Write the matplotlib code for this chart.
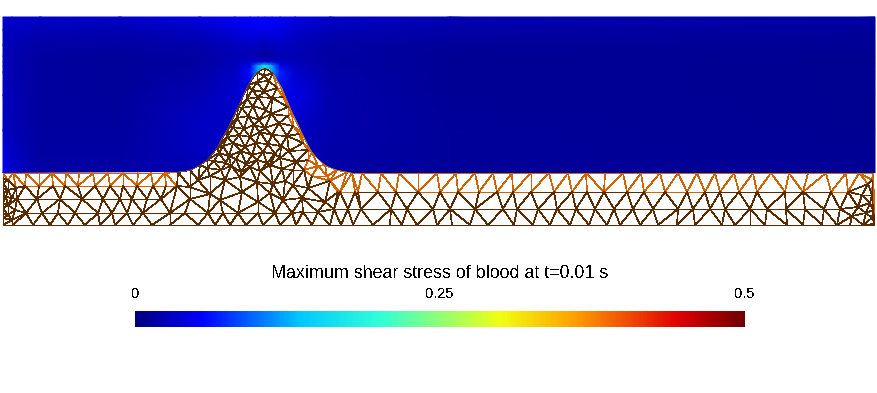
import numpy as np
import matplotlib
matplotlib.use("Agg")
import matplotlib.pyplot as plt
import matplotlib.tri as mtri
from matplotlib.collections import LineCollection
from matplotlib.colors import LinearSegmentedColormap, Normalize
from matplotlib.cm import ScalarMappable

plt.rcParams["font.family"] = ["Liberation Sans", "DejaVu Sans"]
plt.rcParams["text.antialiased"] = False

# everything is measured in picture pixels, y going down
title = "Maximum shear stress of blood at t=0.01 s"
bar_ticks = [0, 0.25, 0.5]
bar_labels = ["0", "0.25", "0.5"]

# colour stops
cmap_pos = [0, 0.11, 0.27, 0.40, 0.60, 0.72, 0.89, 1]
cmap_col = ["#00007f", "#0000ff", "#00c8ff", "#2fffd8", "#f0ff10", "#ffa000", "#e00000", "#700000"]

# stress in the fluid
field_x = [3, 12, 40, 120, 200, 235, 250, 258, 265, 272, 280, 295, 330, 450, 875]
field_y = [17, 30, 45, 56, 62, 66, 72, 95, 130, 173]
field_v = [
    [.035, .035, .033, .035, .045, .052, .056, .057, .057, .056, .052, .045, .035, .025, .018],
    [.030, .028, .025, .022, .030, .040, .045, .045, .045, .045, .043, .035, .025, .018, .012],
    [.028, .024, .018, .016, .020, .028, .030, .028, .025, .028, .030, .026, .018, .013, .010],
    [.028, .022, .015, .013, .017, .025, .024, .018, .012, .018, .024, .024, .016, .011, .009],
    [.028, .022, .015, .013, .017, .026, .030, .035, .040, .035, .030, .026, .016, .011, .009],
    [.028, .022, .015, .013, .017, .028, .045, .120, .190, .120, .050, .028, .017, .011, .009],
    [.028, .022, .015, .013, .018, .030, .060, .120, .120, .120, .070, .035, .018, .011, .009],
    [.030, .024, .015, .013, .025, .035, .040, .040, .040, .040, .040, .045, .020, .011, .009],
    [.032, .025, .015, .014, .030, .030, .030, .030, .030, .030, .030, .030, .020, .012, .009],
    [.050, .035, .016, .016, .025, .030, .030, .030, .030, .030, .030, .030, .016, .012, .010],
]

# blood / wall interface
iface_left_x = [178, 190, 200, 207, 217, 228, 238, 248, 257, 265]
iface_left_y = [172, 170, 165, 160, 148, 128, 107, 85, 72, 68]
iface_right_x = [273, 282, 292, 302, 312, 325, 337, 347, 352]
iface_right_y = [73, 88, 112, 133, 152, 165, 170, 172, 173]

# top surface of the wall
top_x = [3, 13, 26, 39, 52, 66, 79, 93, 108, 123, 138, 151, 165,
         362, 381, 399, 418, 437, 456, 475, 493, 512, 531, 549, 568, 586, 605, 623,
         641, 660, 678, 697, 715, 734, 753, 771, 789, 808, 826, 846, 859, 873]

# left part of the wall, four layers
row186_x = [25, 39, 53, 65, 78, 95, 110, 123, 137, 153, 166, 177]
row200_x = [17, 37, 60, 82, 103, 120, 132, 147, 161, 190]
row213_x = [26, 42, 58, 75, 98, 112, 127, 143, 170, 185, 208]
bottom_x = [3, 13, 33, 50, 68, 85, 100, 115, 133, 152, 170, 198, 215, 230, 246, 263, 280, 296, 312,
            330, 341, 353, 373, 390, 402, 417, 437, 452, 470, 488, 514, 533, 550, 570, 589, 607, 620,
            640, 658, 677, 695, 722, 735, 750, 765, 787, 803, 822, 837, 850, 863, 875]

# right part of the wall, three layers
row192_warm_x = [340, 358, 418, 440, 458, 479, 497, 513, 531, 644, 665, 687, 705, 831, 848]
row192_x = [378, 396, 554, 572, 587, 604, 627, 720, 739, 757, 785, 803]
row209_x = [334, 348, 361, 391, 407, 433, 450, 475, 503, 517, 538, 557, 576, 595, 614, 633, 653,
            678, 693, 710, 725, 750, 767, 786, 805, 824, 840]

# fine mesh in the bump, uneven like the reference
bump_x = [264,
          257, 269,
          252, 264,
          247, 258, 272,
          242, 253, 266,
          237, 248, 259, 271,
          233, 244, 254, 265, 279,
          227, 239, 250, 260, 272, 287,
          223, 233, 245, 256, 268, 281,
          219, 229, 241, 252, 263, 275, 289,
          214, 226, 236, 246, 257, 267, 280, 296,
          207, 221, 231, 241, 250, 260, 270, 282, 293]
bump_y = [76,
          82, 81,
          90, 92,
          99, 97, 98,
          108, 106, 110,
          118, 116, 120, 114,
          127, 129, 125, 128, 123,
          137, 135, 137, 132, 135, 136,
          146, 143, 147, 143, 144, 146,
          153, 156, 151, 155, 152, 154, 151,
          161, 163, 159, 164, 160, 163, 158, 162,
          168, 170, 166, 172, 167, 171, 165, 169, 170]

# orange part on the right flank of the bump
flank_x = [277, 283, 288, 288, 293, 299, 303, 308, 308, 304, 318, 312, 327, 330, 338, 355]
flank_y = [88, 97, 107, 116, 126, 134, 143, 150, 160, 170, 166, 176, 176, 181, 192, 192]

# wall below the bump
base_x = [190, 198, 210, 225, 240, 257, 273, 285, 293, 308,
          210, 220, 242, 258, 270, 283, 302, 325,
          223, 238, 258, 275, 292, 303, 318]
base_y = [187, 180, 176, 180, 177, 182, 184, 181, 185, 188,
          194, 200, 192, 202, 193, 200, 198, 202,
          213, 213, 213, 213, 213, 212, 212]

# dense corners
left_x = [3, 3, 3, 3, 3, 3, 3, 3, 3, 8, 8, 8, 8, 12, 6, 16, 15, 12]
left_y = [178, 183, 188, 193, 198, 203, 208, 213, 218, 180, 190, 205, 215, 198, 197, 188, 210, 220]
right_x = [862, 868, 872, 870, 858, 872, 873, 866, 872, 852, 875]
right_y = [195, 184, 180, 203, 207, 195, 210, 213, 218, 216, 224]

nodes = []
levels = []


def add(xs, ys, level):
    for x, y in zip(xs, ys):
        nodes.append((x, y))
        levels.append(level)


add(top_x, [173] * len(top_x), 2)
add(row186_x, [186] * len(row186_x), 1)
add(row200_x, [199] * len(row200_x), 0)
add(row213_x, [213] * len(row213_x), 0)
add(bottom_x, [225] * len(bottom_x), 0)
add(row192_warm_x, [192] * len(row192_warm_x), 1)
add(row192_x, [192] * len(row192_x), 0)
add(row209_x, [209] * len(row209_x), 0)
add(iface_left_x, iface_left_y, 0)
add(iface_right_x, iface_right_y, 1)
add(bump_x, bump_y, 0)
add(flank_x, flank_y, 1)
add(base_x, base_y, 0)
add(left_x, left_y, 0)
add(right_x, right_y, 0)
nodes = np.array(nodes, dtype=float)
levels = np.array(levels)

# smoother outline for the wall, denser than the mesh nodes
outline_x = [3, 178, 186, 193, 200, 207, 212, 217, 222, 228, 233, 238, 243, 248, 253, 257, 261, 265,
             269, 273, 277, 282, 287, 292, 297, 302, 307, 312, 318, 325, 331, 337, 347, 352, 875]
outline_y = [173, 172, 171, 169, 165, 160, 154, 148, 138, 128, 117, 107, 96, 85, 77, 72, 69, 68,
             69, 73, 80, 88, 100, 112, 122, 133, 143, 152, 159, 165, 168, 170, 172, 173, 173]

tri = mtri.Triangulation(nodes[:, 0], nodes[:, 1])
cx = nodes[tri.triangles, 0].mean(axis=1)
cy = nodes[tri.triangles, 1].mean(axis=1)
tri.set_mask(cy < np.interp(cx, outline_x, outline_y))

edges = tri.edges
warm = levels[edges].sum(axis=1) >= 2

cmap = LinearSegmentedColormap.from_list("blood", list(zip(cmap_pos, cmap_col)))
norm = Normalize(bar_ticks[0], bar_ticks[-1])

fig = plt.figure(figsize=(8.77, 3.93), dpi=100)
ax = fig.add_axes([0, 0, 1, 1])
ax.set_xlim(0, 877)
ax.set_ylim(393, 0)
ax.axis("off")

ax.pcolormesh(field_x, field_y, field_v, cmap=cmap, norm=norm, shading="gouraud", zorder=1)

# white wall on top of the fluid
poly_x = outline_x + [875, 3]
poly_y = outline_y + [226, 226]
wall = ax.fill(poly_x, poly_y, color="white", lw=0, zorder=2)[0]

for mask, col, z in [(warm, "#d06400", 3), (~warm, "#5a2c00", 4)]:
    segs = nodes[edges[mask]]
    lc = LineCollection(segs, colors=col, linewidths=0.5, antialiased=False, zorder=z)
    ax.add_collection(lc)
    lc.set_clip_path(wall)

ax.text(439.5, 273, title, ha="center", va="center", fontsize=12.9, color="black")

cax = fig.add_axes([135 / 877, 1 - 327 / 393, 610 / 877, 16 / 393])
cb = fig.colorbar(ScalarMappable(norm=norm, cmap=cmap), cax=cax, orientation="horizontal")
cb.outline.set_visible(False)
cb.set_ticks(bar_ticks)
cb.set_ticklabels(bar_labels)
cax.xaxis.set_ticks_position("top")
cax.tick_params(axis="x", length=0, pad=7, labelsize=10.5, labelcolor="black")

fig.savefig("out.png", dpi=100)
